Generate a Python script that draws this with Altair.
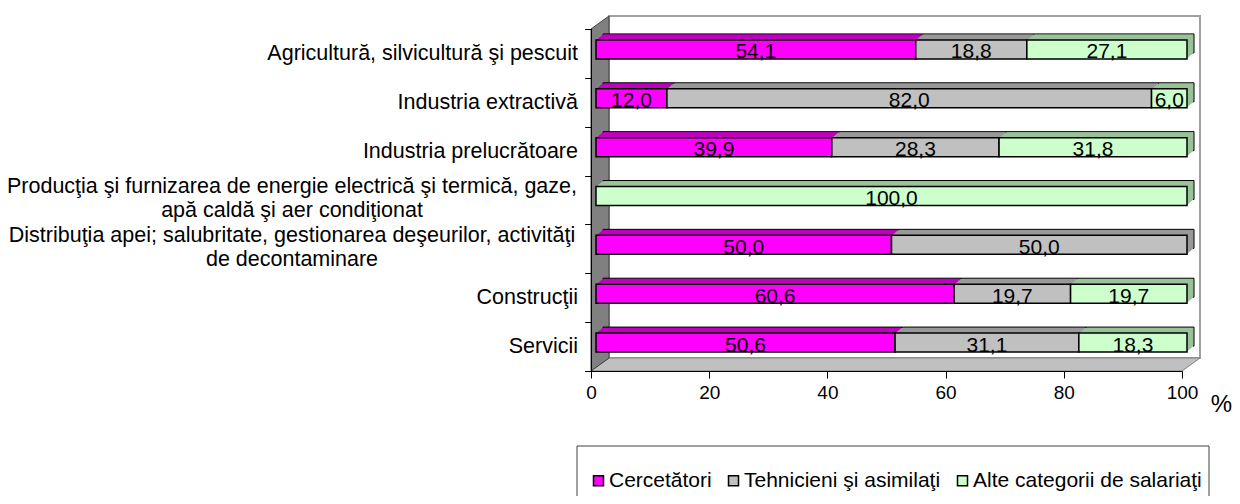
import altair as alt
import pandas as pd

# ---------------- data ----------------
CATEGORIES = [
    "Agricultură, silvicultură şi pescuit",
    "Industria extractivă",
    "Industria prelucrătoare",
    "Producţia şi furnizarea de energie electrică şi termică, gaze,\napă caldă şi aer condiţionat",
    "Distribuţia apei; salubritate, gestionarea deşeurilor, activităţi\nde decontaminare",
    "Construcţii",
    "Servicii",
]
SERIES = ["Cercetători", "Tehnicieni şi asimilaţi", "Alte categorii de salariaţi"]
CERCETATORI = [54.1, 12.0, 39.9, 0.0, 50.0, 60.6, 50.6]
TEHNICIENI = [18.8, 82.0, 28.3, 0.0, 50.0, 19.7, 31.1]
ALTE = [27.1, 6.0, 31.8, 100.0, 0.0, 19.7, 18.3]
X_TICKS = [0, 20, 40, 60, 80, 100]

# ---------------- style ----------------
FRONT_COLORS = ["#FF00FF", "#C0C0C0", "#CCFFCC"]
TOP_COLORS = ["#BF00BF", "#999999", "#99C299"]
FONT = "Liberation Sans"

W, H = 591, 342
NROWS = len(CATEGORIES)
WALL_DX, WALL_DY = 18, 13      # depth of the 3D frame (px)
BAR_DX, BAR_DY = 7, 6          # depth of the 3D bars (px)
FRONT_DX, FRONT_DY = 5, -4     # bar front face offset from the axis plane (px)
BAR_SIZE = 19

rows = []
for i, cat in enumerate(CATEGORIES):
    for s, vals in enumerate([CERCETATORI, TEHNICIENI, ALTE]):
        rows.append({"cat": cat, "series": SERIES[s], "order": s,
                     "value": vals[i], "top": TOP_COLORS[s]})
df = pd.DataFrame(rows)

XS = alt.Scale(domain=[0, 100], nice=False)
XAX = alt.Axis(values=X_TICKS, tickSize=7, labelFontSize=19, labelPadding=5,
               labelFlush=False,
               domainColor="black", tickColor="black", labelColor="black",
               grid=False, title="%", titleFontSize=24, titleFontWeight="normal",
               titleX=630, titleY=40, titleAlign="center", titleBaseline="alphabetic",
               titleColor="black", zindex=1, labelFont=FONT, titleFont=FONT)
YQS = alt.Scale(domain=[0, NROWS], nice=False, zero=False)
YAX = alt.Axis(values=list(range(NROWS + 1)), labels=False, tickSize=6,
               domainColor="black", tickColor="black", grid=False, title=None,
               orient="left", zindex=1)
YB = alt.Y("cat:N", scale=alt.Scale(domain=CATEGORIES, paddingInner=0, paddingOuter=0),
           axis=None)

one = pd.DataFrame({"a": [0]})

# back wall
back = alt.Chart(one).mark_rect(
    fill="white", stroke="#A0A0A0", strokeWidth=2,
    xOffset=WALL_DX, x2Offset=WALL_DX, yOffset=-WALL_DY, y2Offset=-WALL_DY
).encode(
    x=alt.XDatum(0, type="quantitative", scale=XS, axis=XAX),
    x2=alt.X2Datum(100),
    y=alt.YDatum(0, type="quantitative", scale=YQS, axis=YAX),
    y2=alt.Y2Datum(NROWS),
)

dxu = WALL_DX * 100 / W
dyu = WALL_DY * NROWS / H

floor_df = pd.DataFrame({"fx": [0, dxu, 100, 100 + dxu],
                         "fy": [0, dyu, dyu, dyu],
                         "fy2": [0, 0, 0, dyu]})
floor = alt.Chart(floor_df).mark_area(
    fill="#C0C0C0", stroke="#808080", strokeWidth=1, orient="vertical"
).encode(
    x=alt.X("fx:Q", scale=XS, axis=XAX, stack=None),
    y=alt.Y("fy:Q", scale=YQS, axis=YAX, stack=None),
    y2="fy2:Q",
)

wall_df = pd.DataFrame({"wy": [0, dyu, NROWS, NROWS + dyu],
                        "wx": [0, 0, 0, dxu],
                        "wx2": [0, dxu, dxu, dxu]})
wall = alt.Chart(wall_df).mark_area(
    fill="#808080", stroke="#404040", strokeWidth=1, orient="horizontal"
).encode(
    y=alt.Y("wy:Q", scale=YQS, axis=YAX, stack=None),
    x=alt.X("wx:Q", scale=XS, axis=XAX, stack=None),
    x2="wx2:Q",
)

base = alt.Chart(df).transform_stack(
    stack="value", groupby=["cat"], as_=["x0", "x1"], sort=[alt.SortField("order")]
).transform_filter("datum.value > 0")

shadows = []
for k in range(BAR_DX, 0, -1):
    kw = dict(size=BAR_SIZE, xOffset=FRONT_DX + k, x2Offset=FRONT_DX + k,
              yOffset=FRONT_DY - k * BAR_DY / BAR_DX)
    if k == BAR_DX:
        kw.update(stroke="black", strokeWidth=1)
    shadows.append(base.mark_bar(**kw).encode(
        x=alt.X("x0:Q", scale=XS, axis=XAX),
        x2="x1:Q",
        y=YB,
        fill=alt.Fill("top:N", scale=None),
    ))

LEG = alt.Legend(orient="none", legendX=-3, legendY=441, direction="horizontal",
                 title=None, symbolType="square", symbolSize=100,
                 symbolStrokeColor="black", symbolStrokeWidth=1.5,
                 labelFontSize=21, labelOffset=0, columnPadding=11,
                 labelColor="black", padding=0, symbolOpacity=1, labelFont=FONT,
                 labelLimit=400)

front = base.mark_bar(
    size=BAR_SIZE, stroke="black", strokeWidth=1.5,
    xOffset=FRONT_DX, x2Offset=FRONT_DX, yOffset=FRONT_DY
).encode(
    x=alt.X("x0:Q", scale=XS, axis=XAX),
    x2="x1:Q",
    y=YB,
    fill=alt.Fill("series:N", scale=alt.Scale(domain=SERIES, range=FRONT_COLORS),
                  legend=LEG),
)

bar_text = base.transform_calculate(
    mid="(datum.x0 + datum.x1) / 2",
    lab="replace(format(datum.value, '.1f'), '.', ',')",
).mark_text(fontSize=21, baseline="alphabetic", dx=FRONT_DX, dy=5,
            color="black", font=FONT).encode(
    x=alt.X("mid:Q", scale=XS, axis=XAX),
    y=YB,
    text="lab:N",
)

cats = alt.Chart(pd.DataFrame({"cat": CATEGORIES})).transform_calculate(
    lines="split(datum.cat, '\\n')"
)
cat_single = cats.transform_filter("length(datum.lines) == 1").mark_text(
    align="right", baseline="alphabetic", fontSize=21.5, dy=6.6,
    color="black", font=FONT
).encode(x=alt.value(-13), y=YB, text="cat:N")
cat_multi = cats.transform_filter("length(datum.lines) > 1").mark_text(
    align="center", baseline="alphabetic", fontSize=21.5, dy=-6.6, lineHeight=24,
    color="black", font=FONT
).encode(x=alt.value(-299), y=YB, text=alt.Text("lines:N"))

legend_box = alt.Chart(one).mark_rect(
    fillOpacity=0, stroke="#404040", strokeWidth=1
).encode(x=alt.value(-14), x2=alt.value(618), y=alt.value(417), y2=alt.value(480))

chart = alt.layer(
    back, floor, wall, *shadows, front, bar_text, cat_single, cat_multi, legend_box
).resolve_scale(y="independent").properties(
    width=W, height=H,
    autosize=alt.AutoSizeParams(type="none"),
    padding={"left": 583, "top": 21, "right": 50, "bottom": 125},
).configure_view(stroke=None).configure(font=FONT, background="white")

chart.save("out.html", embed_options={"renderer": "svg", "actions": False})
